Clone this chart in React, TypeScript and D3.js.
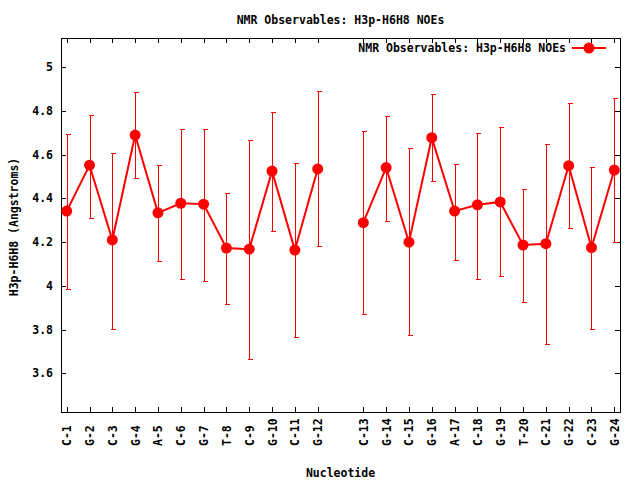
import { useEffect, useRef } from "react"
import * as d3 from "d3"

// strand 1 and strand 2 are plotted with one empty slot between them
const strand1 = ["C-1", "G-2", "C-3", "G-4", "A-5", "C-6", "G-7", "T-8", "C-9", "G-10", "C-11", "G-12"]
const strand1Values = [4.342, 4.552, 4.21, 4.69, 4.334, 4.378, 4.374, 4.173, 4.168, 4.525, 4.164, 4.535]
const strand1Low = [3.985, 4.312, 3.805, 4.492, 4.112, 4.03, 4.021, 3.917, 3.664, 4.249, 3.764, 4.182]
const strand1High = [4.697, 4.783, 4.606, 4.886, 4.555, 4.719, 4.719, 4.427, 4.666, 4.794, 4.561, 4.89]

const strand2 = ["C-13", "G-14", "C-15", "G-16", "A-17", "C-18", "G-19", "T-20", "C-21", "G-22", "C-23", "G-24"]
const strand2Values = [4.289, 4.541, 4.2, 4.678, 4.342, 4.371, 4.384, 4.187, 4.193, 4.55, 4.175, 4.53]
const strand2Low = [3.871, 4.295, 3.773, 4.478, 4.117, 4.03, 4.045, 3.925, 3.732, 4.263, 3.801, 4.2]
const strand2High = [4.707, 4.776, 4.629, 4.876, 4.559, 4.701, 4.725, 4.444, 4.648, 4.835, 4.544, 4.858]

const yTicks = [3.6, 3.8, 4, 4.2, 4.4, 4.6, 4.8, 5]

const title = "NMR Observables: H3p-H6H8 NOEs"
const xTitle = "Nucleotide"
const yTitle = "H3p-H6H8 (Angstroms)"

interface Point {
  label: string
  pos: number
  value: number
  low: number
  high: number
}

const RED = "#ff0000"
const FONT = "'DejaVu Sans Mono', monospace"

const App = () => {
  const svgRef = useRef<SVGSVGElement | null>(null)

  useEffect(() => {
    if (!svgRef.current) return
    const svg = d3.select(svgRef.current)
    svg.selectAll("*").remove()

    const width = 640
    const height = 480
    const margin = { top: 38, right: 20, bottom: 68, left: 61 }
    const x0 = margin.left
    const x1 = width - margin.right
    const y0 = margin.top
    const y1 = height - margin.bottom

    const build = (labels: string[], vals: number[], lows: number[], highs: number[], offset: number): Point[] =>
      labels.map((label, i) => ({ label, pos: offset + i, value: vals[i], low: lows[i], high: highs[i] }))

    const seg1 = build(strand1, strand1Values, strand1Low, strand1High, 1)
    const seg2 = build(strand2, strand2Values, strand2Low, strand2High, strand1.length + 2)
    const all = [...seg1, ...seg2]

    const x = d3.scaleLinear().domain([0.75, all[all.length - 1].pos + 0.25]).range([x0, x1])
    const y = d3.scaleLinear().domain([3.423, 5.134]).range([y1, y0])

    svg.append("rect").attr("width", width).attr("height", height).attr("fill", "#fff")

    // frame
    svg
      .append("rect")
      .attr("x", x0 + 0.5)
      .attr("y", y0 + 0.5)
      .attr("width", x1 - x0)
      .attr("height", y1 - y0)
      .attr("fill", "none")
      .attr("stroke", "#000")
      .attr("shape-rendering", "crispEdges")

    const tickLen = 5
    const ticks = svg.append("g").attr("stroke", "#000").attr("shape-rendering", "crispEdges")

    // y ticks (mirrored on the right)
    yTicks.forEach((t) => {
      const yy = Math.round(y(t)) + 0.5
      ticks.append("line").attr("x1", x0).attr("x2", x0 + tickLen).attr("y1", yy).attr("y2", yy)
      ticks.append("line").attr("x1", x1 - tickLen).attr("x2", x1).attr("y1", yy).attr("y2", yy)
    })

    // x ticks (mirrored on top)
    all.forEach((d) => {
      const xx = Math.round(x(d.pos)) + 0.5
      ticks.append("line").attr("x1", xx).attr("x2", xx).attr("y1", y1).attr("y2", y1 - tickLen)
      ticks.append("line").attr("x1", xx).attr("x2", xx).attr("y1", y0).attr("y2", y0 + tickLen)
    })

    const text = svg
      .append("g")
      .attr("font-family", FONT)
      .attr("font-weight", "bold")
      .attr("font-size", "11.5px")
      .attr("fill", "#000")

    text
      .selectAll(".ytick")
      .data(yTicks)
      .join("text")
      .attr("x", x0 - 8)
      .attr("y", (d) => y(d))
      .attr("dy", "0.35em")
      .attr("text-anchor", "end")
      .text((d) => String(+d.toFixed(1)))

    text
      .selectAll(".xtick")
      .data(all)
      .join("text")
      .attr("transform", (d) => `translate(${x(d.pos) + 4.5},${y1 + 34}) rotate(-90)`)
      .attr("text-anchor", "start")
      .text((d) => d.label)

    text
      .append("text")
      .attr("x", (x0 + x1) / 2)
      .attr("y", 24)
      .attr("text-anchor", "middle")
      .text(title)

    text
      .append("text")
      .attr("x", (x0 + x1) / 2)
      .attr("y", 477)
      .attr("text-anchor", "middle")
      .text(xTitle)

    text
      .append("text")
      .attr("transform", `translate(18,${(y0 + y1) / 2 + 2}) rotate(-90)`)
      .attr("text-anchor", "middle")
      .text(yTitle)

    // error bars
    const err = svg.append("g").attr("stroke", RED).attr("stroke-width", 1).attr("shape-rendering", "crispEdges")
    all.forEach((d) => {
      const xx = Math.round(x(d.pos)) + 0.5
      err.append("line").attr("x1", xx).attr("x2", xx).attr("y1", y(d.low)).attr("y2", y(d.high))
      err.append("line").attr("x1", xx - 2).attr("x2", xx + 3).attr("y1", Math.round(y(d.low)) + 0.5).attr("y2", Math.round(y(d.low)) + 0.5)
      err.append("line").attr("x1", xx - 2).attr("x2", xx + 3).attr("y1", Math.round(y(d.high)) + 0.5).attr("y2", Math.round(y(d.high)) + 0.5)
    })

    const line = d3
      .line<Point>()
      .x((d) => x(d.pos))
      .y((d) => y(d.value))

    ;[seg1, seg2].forEach((seg) => {
      svg.append("path").datum(seg).attr("d", line).attr("fill", "none").attr("stroke", RED).attr("stroke-width", 2)
    })

    svg
      .append("g")
      .selectAll("circle")
      .data(all)
      .join("circle")
      .attr("cx", (d) => x(d.pos))
      .attr("cy", (d) => y(d.value))
      .attr("r", 5.5)
      .attr("fill", RED)

    // legend
    const ly = 48
    text
      .append("text")
      .attr("x", 566)
      .attr("y", ly)
      .attr("dy", "0.35em")
      .attr("text-anchor", "end")
      .text(title)
    svg.append("line").attr("x1", 572).attr("x2", 606).attr("y1", ly).attr("y2", ly).attr("stroke", RED).attr("stroke-width", 2)
    svg.append("circle").attr("cx", 589).attr("cy", ly).attr("r", 5.5).attr("fill", RED)
  }, [])

  return (
    <div style={{ position: "absolute", left: 0, top: 0 }}>
      <svg ref={svgRef} width={640} height={480} style={{ display: "block" }} />
    </div>
  )
}

export default App
